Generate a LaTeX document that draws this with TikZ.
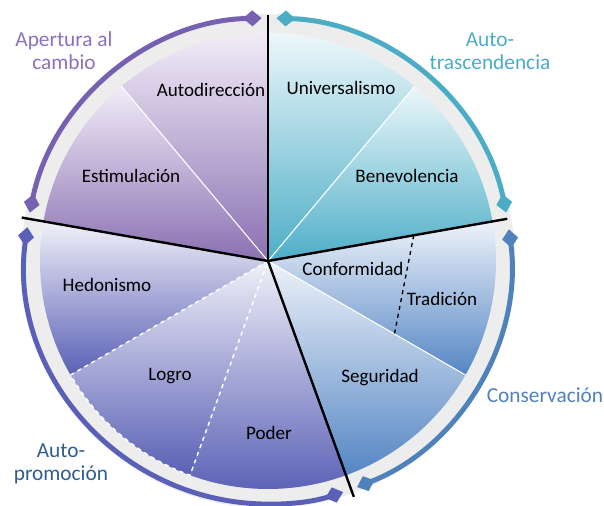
\documentclass[tikz,border=0pt]{standalone}
\usepackage{fontspec}
\setmainfont{Carlito}
\usepackage{tikz}
\usetikzlibrary{arrows.meta}

\definecolor{moradoA}{HTML}{F1ECF7}
\definecolor{moradoB}{HTML}{8A70B2}
\definecolor{turquesaA}{HTML}{ECF7FA}
\definecolor{turquesaB}{HTML}{4DAEC7}
\definecolor{azulA}{HTML}{EEF2F9}
\definecolor{azulB}{HTML}{5486C4}
\definecolor{indigoA}{HTML}{F0F0F8}
\definecolor{indigoB}{HTML}{5A60B5}
\definecolor{arcoMorado}{HTML}{7860B0}
\definecolor{arcoTurquesa}{HTML}{4BACC6}
\definecolor{arcoAzul}{HTML}{4F81BD}
\definecolor{arcoIndigo}{HTML}{5A60B8}
\definecolor{textoMorado}{HTML}{8B6FC0}
\definecolor{textoIndigo}{HTML}{2E5D8E}

\begin{document}
\begin{tikzpicture}[x=0.75pt,y=0.75pt,
  valor/.style={font=\fontsize{14.3}{16}\selectfont, text=black},
  grupo/.style={font=\fontsize{16}{17.25}\selectfont, align=center},
  arco/.style={{Diamond[length=14pt,width=12pt]}-{Diamond[length=14pt,width=12pt]}, line width=3.7pt},
  divisor/.style={line width=1.8pt}]

  \useasboundingbox (-268,-245) rectangle (336,261);
  \coordinate (centro) at (0,0);
  \fill[black!7] (centro) circle[radius=247];

  % sectores
  \foreach \a/\b/\top/\bot in {90/130/moradoA/moradoB, 130/170/moradoA/moradoB,
      50/90/turquesaA/turquesaB, 10/50/turquesaA/turquesaB,
      -30/10/azulA/azulB, -70/-30/azulA/azulB,
      170/210/indigoA/indigoB, 210/250/indigoA/indigoB, 250/290/indigoA/indigoB}
    \shade[top color=\top, bottom color=\bot] (centro) -- (\a:228) arc[start angle=\a, end angle=\b, radius=228] -- cycle;

  \foreach \ang in {130, 50, -30}
    \draw[white, line width=0.8pt] (centro) -- (\ang:228);
  \draw[white, dashed, line width=1.1pt] (centro) -- (210:228) arc[start angle=210, end angle=250, radius=228] -- cycle;

  \coordinate (trad1) at (10:148);
  \coordinate (trad2) at (-30:146);
  \draw[dashed, line width=1pt] (trad1) -- (trad2);

  \coordinate (arriba) at (90:246);
  \coordinate (izquierda) at (170:250);
  \coordinate (derecha) at (10:243);
  \coordinate (abajo) at (-70:251);

  \foreach \from/\to in {centro/arriba, centro/izquierda, centro/derecha, centro/abajo}
    \draw[divisor] (\from) -- (\to);

  % arcos
  \draw[arco, arcoMorado] (91.5:243) arc[start angle=91.5, end angle=168.5, radius=243];
  \draw[arco, arcoTurquesa] (11.5:243) arc[start angle=11.5, end angle=88, radius=243];
  \draw[arco, arcoAzul] (-68.5:243) arc[start angle=-68.5, end angle=7.5, radius=243];
  \draw[arco, arcoIndigo] (172:243) arc[start angle=172, end angle=288, radius=243];

  \node[valor] (autodireccion) at (-57,171) {Autodirección};
  \node[valor] (estimulacion) at (-137,85) {Estimulación};
  \node[valor] (universalismo) at (73,173) {Universalismo};
  \node[valor] (benevolencia) at (139,85) {Benevolencia};
  \node[valor] (conformidad) at (85,-8) {Conformidad};
  \node[valor] (tradicion) at (174,-38) {Tradición};
  \node[valor] (seguridad) at (112,-117) {Seguridad};
  \node[valor] (hedonismo) at (-161,-24) {Hedonismo};
  \node[valor] (logro) at (-98,-115) {Logro};
  \node[valor] (poder) at (1,-172) {Poder};

  \node[grupo, text=textoMorado] (apertura) at (-204,210) {Apertura al\\cambio};
  \node[grupo, text=arcoTurquesa] (trascendencia) at (222,210) {Auto-\\trascendencia};
  \node[grupo, text=arcoAzul] (conservacion) at (277,-134) {Conservación};
  \node[grupo, text=textoIndigo] (promocion) at (-207,-203) {Auto-\\promoción};

\end{tikzpicture}
\end{document}
